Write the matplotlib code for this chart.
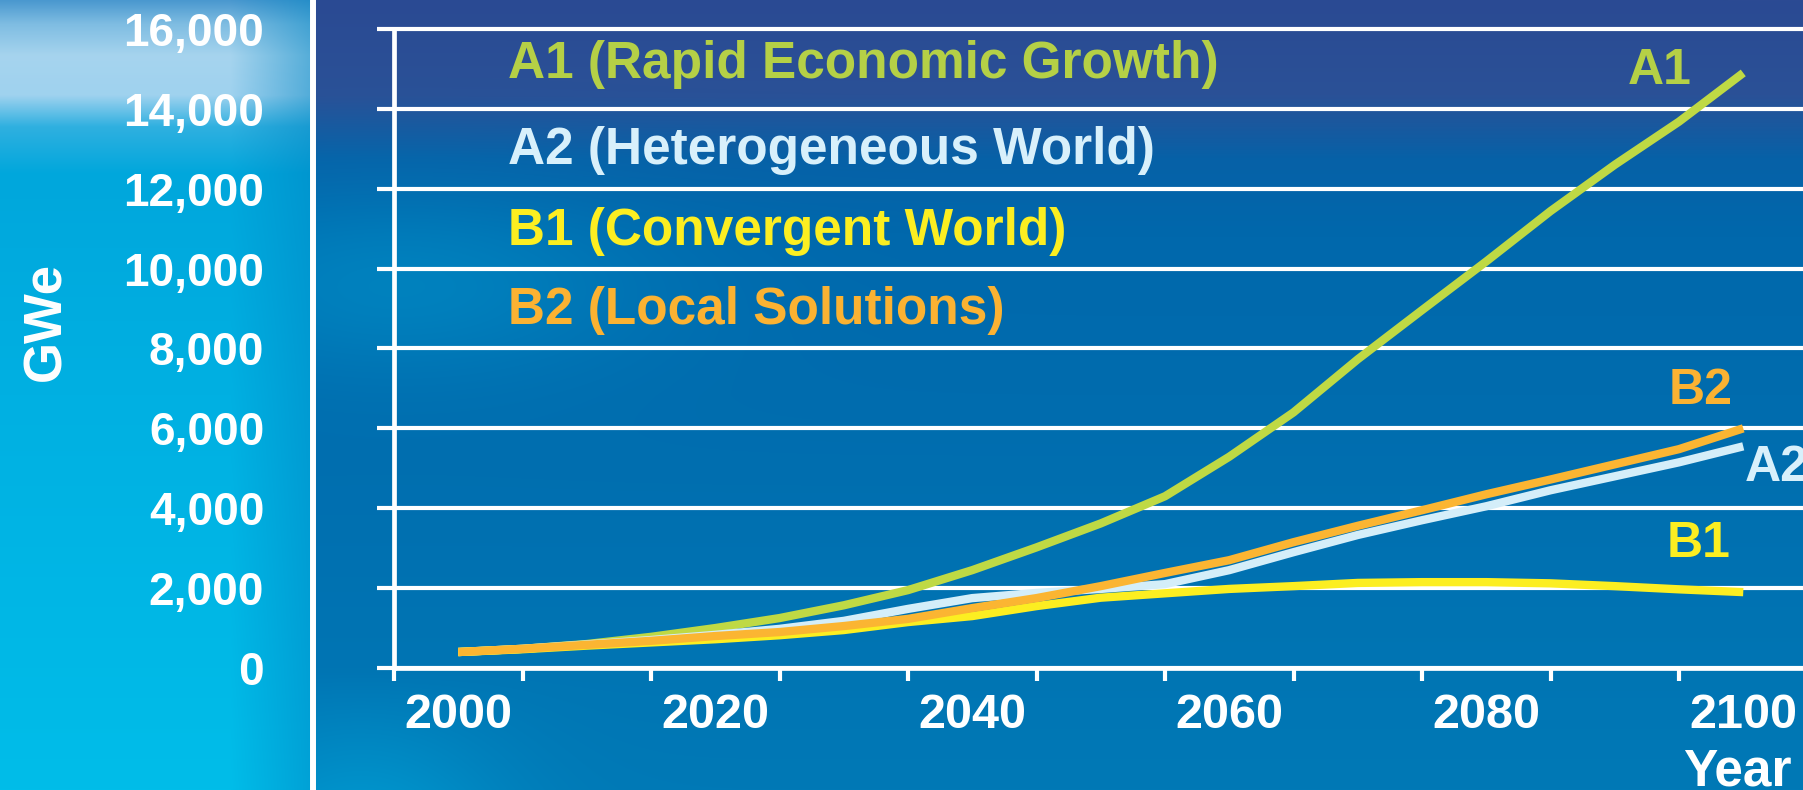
import numpy as np
import matplotlib
matplotlib.use('Agg')
import matplotlib.pyplot as plt
from matplotlib.colors import to_rgb
from matplotlib.ticker import FixedLocator, FuncFormatter

# IPCC-style nuclear capacity scenarios, GWe
years = [2000, 2005, 2010, 2015, 2020, 2025, 2030, 2035, 2040, 2045, 2050,
         2055, 2060, 2065, 2070, 2075, 2080, 2085, 2090, 2095, 2100]
a1 = [400, 480, 600, 780, 1000, 1250, 1570, 1950, 2450, 3020, 3620,
      4300, 5290, 6400, 7730, 8960, 10180, 11440, 12600, 13680, 14900]
a2 = [400, 480, 590, 700, 830, 980, 1180, 1480, 1750, 1880, 1980,
      2100, 2450, 2900, 3330, 3700, 4050, 4450, 4800, 5150, 5550]
b1 = [400, 470, 560, 640, 720, 820, 950, 1150, 1300, 1550, 1760,
      1870, 1980, 2050, 2130, 2150, 2150, 2120, 2050, 1970, 1900]
b2 = [400, 480, 580, 680, 800, 900, 1050, 1230, 1500, 1750, 2050,
      2380, 2700, 3150, 3560, 3950, 4350, 4720, 5100, 5480, 6000]

names = ['A1 (Rapid Economic Growth)', 'A2 (Heterogeneous World)',
         'B1 (Convergent World)', 'B2 (Local Solutions)']
short = ['A1', 'A2', 'B1', 'B2']
series = [a1, a2, b1, b2]
colors = ['#bfd944', '#d4eef9', '#fcee21', '#fbb532']
text_colors = ['#b5d046', '#d8f0fb', '#fcee21', '#fbb232']

yticks = [0, 2000, 4000, 6000, 8000, 10000, 12000, 14000, 16000]
xlabels = [2000, 2020, 2040, 2060, 2080, 2100]
xmarks = [1995, 2005, 2015, 2025, 2035, 2045, 2055, 2065, 2075, 2085, 2095]

plt.rcParams['font.family'] = ['Liberation Sans', 'DejaVu Sans']
plt.rcParams['font.weight'] = 'bold'

W, H = 1803, 790
fig = plt.figure(figsize=(W / 100, H / 100), dpi=100)


def ramp(t, stops, cols):
    c = np.array([to_rgb(k) for k in cols])
    return np.stack([np.interp(t, stops, c[:, i]) for i in range(3)], axis=-1)


# background: blue gradient, lighter cyan panel on the left
yy = np.linspace(0, 1, H)
xx = np.linspace(0, 1, W)
right = ramp(yy, [0, 0.12, 0.2, 0.3, 0.5, 1.0],
             ['#2b4a93', '#2a5197', '#0761a7', '#0068ac', '#006cae', '#0079b6'])
img = np.repeat(right[:, None, :], W, axis=1)
glow = np.exp(-((xx[None, :] - 0.22) / 0.14) ** 2) * np.exp(-((yy[:, None] - 0.36) / 0.12) ** 2)
img = img * (1 - 0.55 * glow[..., None]) + np.array(to_rgb('#0095cc')) * 0.55 * glow[..., None]
low = np.exp(-((xx[None, :] - 0.2) / 0.08) ** 2) * np.clip((yy[:, None] - 0.85) / 0.15, 0, 1)
img = img * (1 - 0.6 * low[..., None]) + np.array(to_rgb('#00a3d8')) * 0.6 * low[..., None]
left = ramp(yy, [0, 0.03, 0.07, 0.12, 0.16, 0.22, 0.5, 1.0],
            ['#4a98cf', '#7fbde2', '#a6d4ee', '#9fd2ef', '#2fb0e0', '#00a7dc', '#00b0e2', '#00bde9'])
lw_ = 313
img[:, :lw_] = left[:, None, :]
fade = np.clip((np.arange(lw_) - 230) / 83, 0, 1)[None, :, None]
img[:, :lw_] = img[:, :lw_] * (1 - 0.5 * fade) + np.array(to_rgb('#0084c2')) * 0.5 * fade

bg = fig.add_axes([0, 0, 1, 1], zorder=0)
bg.imshow(img, aspect='auto', extent=[0, 1, 0, 1], interpolation='bilinear')
bg.axvline(313 / W, color='white', lw=4.3)
bg.set_xlim(0, 1)
bg.set_ylim(0, 1)
bg.axis('off')

ax = fig.add_axes([394 / W, (H - 668) / H, 1 - 394 / W, 668 / H], zorder=1)
ax.patch.set_alpha(0)
ax.set_xlim(1995, 1995 + (W - 394) / 12.85)
ax.set_ylim(0, 16000 + 29 / 39.94 * 1000)

for s in ['top', 'right']:
    ax.spines[s].set_visible(False)
for s in ['left', 'bottom']:
    ax.spines[s].set_color('white')
    ax.spines[s].set_linewidth(3.4)
ax.spines['left'].set_bounds(0, 16000)

ax.yaxis.set_major_locator(FixedLocator(yticks))
ax.yaxis.set_major_formatter(FuncFormatter(lambda v, p: f'{int(v):,}'))
ax.tick_params(axis='y', colors='white', length=12.5, width=3, pad=81, labelsize=33)
ax.grid(axis='y', color='white', lw=3)

ax.xaxis.set_major_locator(FixedLocator(xlabels))
ax.xaxis.set_minor_locator(FixedLocator(xmarks))
ax.tick_params(axis='x', which='major', colors='white', length=0, pad=18, labelsize=35)
ax.tick_params(axis='x', which='minor', colors='white', length=9, width=3)

for ys, c in zip(series, colors):
    ax.plot(years, ys, color=c, lw=6, solid_joinstyle='round', solid_capstyle='butt', clip_on=False)

# legend block
for name, c, yv in zip(names, text_colors, [15100, 12970, 10920, 8940]):
    ax.text(2003.9, yv, name, color=c, fontsize=37, va='center', ha='left')

# end-of-line labels
ax.text(2093.5, 14950, short[0], color=text_colors[0], fontsize=36, ha='center', va='center')
ax.text(2096.7, 6935, short[3], color=text_colors[3], fontsize=36, ha='center', va='center')
ax.text(2100.1, 5020, short[1], color=text_colors[1], fontsize=36, ha='left', va='center')
ax.text(2096.5, 3105, short[2], color=text_colors[2], fontsize=36, ha='center', va='center')

fig.text(1737 / W, 1 - 748 / H, 'Year', color='white', fontsize=37, ha='center', va='top')
fig.text(46 / W, 1 - 322 / H, 'GWe', color='white', fontsize=38, rotation=90,
         ha='center', va='center')

fig.savefig('out.png', dpi=100)
